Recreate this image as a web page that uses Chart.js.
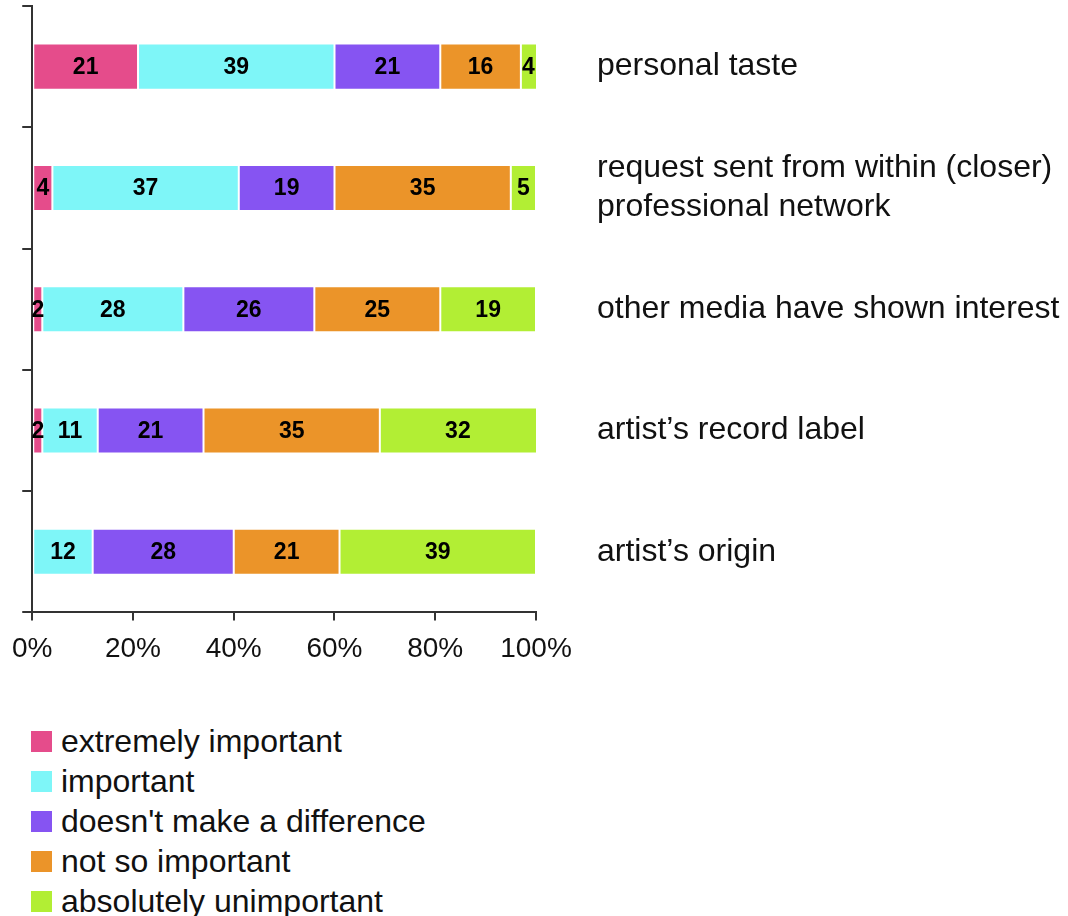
<!DOCTYPE html>
<html>
<head>
<meta charset="utf-8">
<script src="https://cdn.jsdelivr.net/npm/chart.js@4/dist/chart.umd.min.js"></script>
<style>
  html, body { margin: 0; padding: 0; background: #fff; }
  #wrap { position: relative; width: 1068px; height: 916px; }
  #box { position: absolute; left: 0; top: 0; width: 1068px; height: 680px; }
  #legend { position: absolute; left: 31px; top: 721px; margin: 0; padding: 0; list-style: none;
            font-family: "Liberation Sans", Arial, sans-serif; font-size: 32px; color: #111; }
  #legend li { display: flex; align-items: center; height: 40px; }
  #legend .sw { width: 21px; height: 21px; margin-right: 9px; }
</style>
</head>
<body>
<div id="wrap">
  <div id="box"><canvas id="c"></canvas></div>
  <ul id="legend"></ul>
</div>
<script>
// Survey categories (top to bottom) and answer shares in percent
const categories = [
  'personal taste',
  ['request sent from within (closer)', 'professional network'],
  'other media have shown interest',
  'artist’s record label',
  'artist’s origin'
];
const seriesNames = [
  'extremely important',
  'important',
  "doesn't make a difference",
  'not so important',
  'absolutely unimportant'
];
const extremelyImportant = [21, 4, 2, 2, 0];
const important = [39, 37, 28, 11, 12];
const noDifference = [21, 19, 26, 21, 28];
const notSoImportant = [16, 35, 25, 35, 21];
const absolutelyUnimportant = [4, 5, 19, 32, 39];
const xTicks = [0, 20, 40, 60, 80, 100];

const colors = ['#E54C8B', '#7EF6F8', '#8654F2', '#EB9429', '#B2EE34'];
const seriesValues = [extremelyImportant, important, noDifference, notSoImportant, absolutelyUnimportant];

const FONT = '"Liberation Sans", Arial, sans-serif';
const AXIS = '#333';

// Value labels centred in the visible part of every segment
const segmentLabels = {
  id: 'segmentLabels',
  afterDatasetsDraw(chart) {
    const { ctx, chartArea } = chart;
    ctx.save();
    ctx.font = 'bold 23px ' + FONT;
    ctx.fillStyle = '#000';
    ctx.textAlign = 'center';
    ctx.textBaseline = 'middle';
    chart.data.datasets.forEach((ds, di) => {
      const meta = chart.getDatasetMeta(di);
      meta.data.forEach((el, i) => {
        const v = ds.data[i];
        if (!v) return;
        const a = Math.max(Math.min(el.base, el.x), chartArea.left);
        const b = Math.min(Math.max(el.base, el.x), chartArea.right);
        ctx.fillText(String(v), (a + b) / 2, el.y + 1);
      });
    });
    ctx.restore();
  }
};

// Vertical legend list below the plot
const htmlLegend = {
  id: 'htmlLegend',
  afterUpdate(chart) {
    const ul = document.getElementById('legend');
    ul.innerHTML = '';
    chart.data.datasets.forEach(ds => {
      const li = document.createElement('li');
      const sw = document.createElement('span');
      sw.className = 'sw';
      sw.style.background = ds.backgroundColor;
      const tx = document.createElement('span');
      tx.textContent = ds.label;
      li.appendChild(sw);
      li.appendChild(tx);
      ul.appendChild(li);
    });
  }
};

new Chart(document.getElementById('c'), {
  type: 'bar',
  data: {
    labels: categories,
    datasets: seriesNames.map((name, k) => ({
      label: name,
      data: seriesValues[k],
      backgroundColor: colors[k],
      borderColor: 'rgba(255,255,255,0.55)',
      borderWidth: 1,
      borderSkipped: false,
      categoryPercentage: 1,
      barPercentage: 0.38,
      yAxisID: 'y'
    }))
  },
  options: {
    indexAxis: 'y',
    responsive: true,
    maintainAspectRatio: false,
    animation: false,
    layout: { padding: { left: 21, top: 6, right: 0, bottom: 2 } },
    plugins: {
      legend: { display: false },
      tooltip: { enabled: false }
    },
    scales: {
      x: {
        stacked: true,
        min: 0,
        max: 100,
        afterBuildTicks(axis) { axis.ticks = xTicks.map(v => ({ value: v })); },
        border: { display: true, color: AXIS, width: 2 },
        grid: { drawOnChartArea: false, drawTicks: true, tickLength: 8, color: AXIS, lineWidth: 2 },
        ticks: {
          padding: 12,
          color: '#111',
          font: { family: FONT, size: 28 },
          maxRotation: 0,
          callback: v => v + '%'
        }
      },
      y: {
        stacked: true,
        position: 'left',
        offset: true,
        border: { display: true, color: AXIS, width: 2 },
        grid: { offset: true, drawOnChartArea: false, drawTicks: true, tickLength: 10, color: AXIS, lineWidth: 2 },
        ticks: { display: false }
      },
      y2: {
        type: 'category',
        position: 'right',
        offset: true,
        labels: categories,
        border: { display: false },
        grid: { display: false, drawTicks: false },
        ticks: {
          padding: 61,
          color: '#111',
          font: { family: FONT, size: 32, lineHeight: 1.22 }
        },
        afterFit(axis) {
          axis.width = 532;
          axis.paddingTop = 0;
          axis.paddingBottom = 0;
        }
      }
    }
  },
  plugins: [segmentLabels, htmlLegend]
});
</script>
</body>
</html>
